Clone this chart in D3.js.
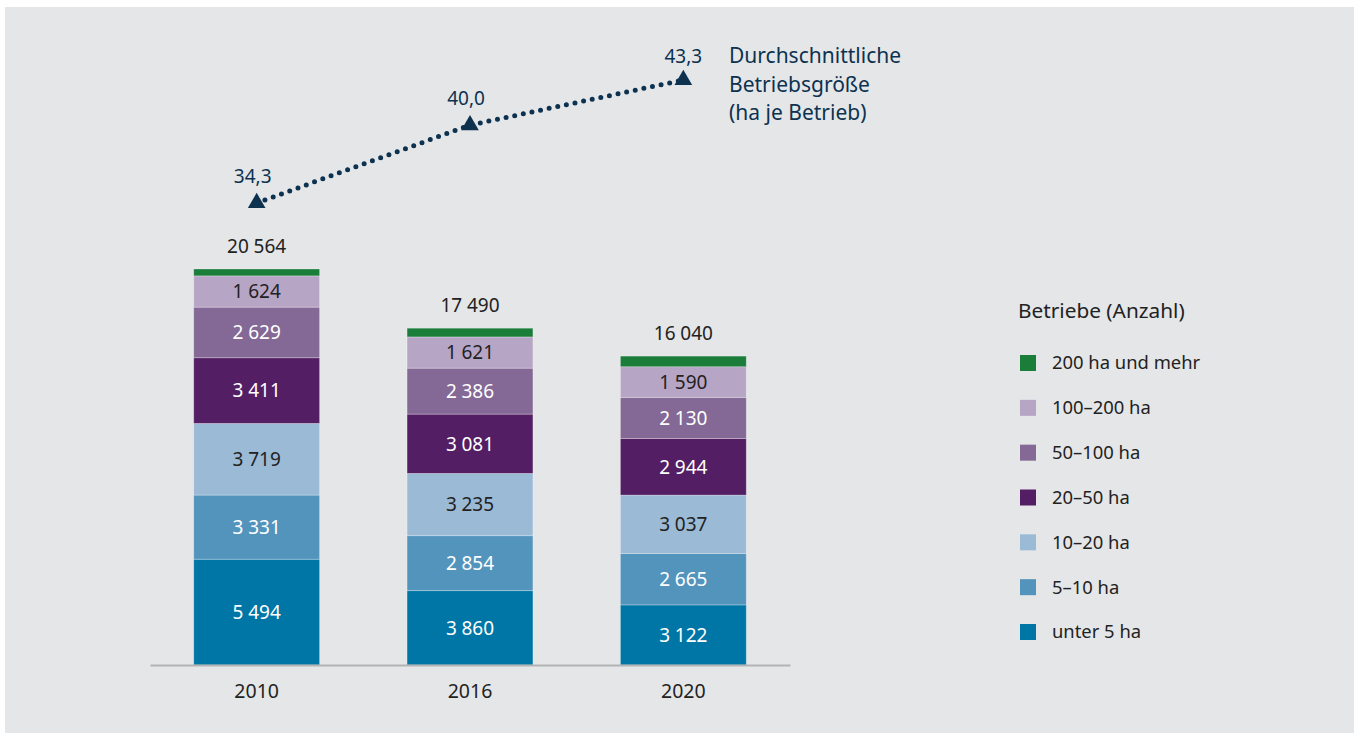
<!DOCTYPE html>
<html>
<head>
<meta charset="utf-8">
<script src="https://cdn.jsdelivr.net/npm/d3@7"></script>
<style>
  body { margin: 0; background: #fff; }
  svg { display: block; font-family: "Noto Sans", "Open Sans", sans-serif; }
</style>
</head>
<body>
<svg id="chart" width="1354" height="733"></svg>
<script>
const years = ["2010", "2016", "2020"];
const categories = ["unter 5 ha", "5–10 ha", "10–20 ha", "20–50 ha", "50–100 ha", "100–200 ha", "200 ha und mehr"];
const colors = ["#0076a6", "#5394bd", "#9bbad6", "#531e63", "#846996", "#b7a5c6", "#1b7d3a"];
const labelDark = [false, false, true, false, false, true, false];
const unter5 = [5494, 3860, 3122];
const ha5to10 = [3331, 2854, 2665];
const ha10to20 = [3719, 3235, 3037];
const ha20to50 = [3411, 3081, 2944];
const ha50to100 = [2629, 2386, 2130];
const ha100to200 = [1624, 1621, 1590];
const ha200plus = [356, 453, 552];
const totals = [20564, 17490, 16040];
const avgSize = [34.3, 40.0, 43.3];

const series = [unter5, ha5to10, ha10to20, ha20to50, ha50to100, ha100to200, ha200plus];
const navy = "#0c3250";
const textCol = "#222";

const fmtInt = v => d3.format(",")(v).replace(/,/g, "\u2005");
const fmtDec = v => d3.format(".1f")(v).replace(".", ",");

const svg = d3.select("#chart");
svg.append("rect").attr("x", 5).attr("y", 7).attr("width", 1349).attr("height", 726).attr("fill", "#e5e6e8");

const x = d3.scaleBand().domain(years).range([150, 790]).paddingInner(0.41).paddingOuter(0.205);
const y = d3.scaleLinear().domain([0, 20564]).range([665, 269]);
const yLine = d3.scaleLinear().domain([34.3, 43.3]).range([203, 80]);

// stacked table built from the arrays
const table = years.map((yr, i) => {
  const row = { year: yr };
  categories.forEach((c, k) => row[c] = series[k][i]);
  return row;
});
const stacked = d3.stack().keys(categories)(table);

const layers = svg.append("g").selectAll("g").data(stacked).enter().append("g")
    .attr("fill", (d, k) => colors[k]);

layers.selectAll("rect").data(d => d).enter().append("rect")
    .attr("x", d => x(d.data.year))
    .attr("y", d => y(d[1]))
    .attr("width", x.bandwidth())
    .attr("height", d => y(d[0]) - y(d[1]))
    .attr("stroke", "rgba(255,255,255,0.35)")
    .attr("stroke-width", 0.8);

// segment labels (not for the thin top segment)
stacked.forEach((layer, k) => {
  if (k === 6) return;
  svg.append("g").selectAll("text").data(layer).enter().append("text")
      .attr("x", d => x(d.data.year) + x.bandwidth() / 2)
      .attr("y", d => (y(d[0]) + y(d[1])) / 2)
      .attr("dy", "0.36em")
      .attr("text-anchor", "middle")
      .attr("font-size", 19)
      .attr("fill", labelDark[k] ? textCol : "#fff")
      .text(d => fmtInt(d[1] - d[0]));
});

// totals
svg.append("g").selectAll("text").data(totals).enter().append("text")
    .attr("x", (d, i) => x(years[i]) + x.bandwidth() / 2)
    .attr("y", d => y(d) - 16)
    .attr("text-anchor", "middle")
    .attr("font-size", 19)
    .attr("fill", textCol)
    .text(d => fmtInt(d));

// axis
const axis = svg.append("g").attr("transform", "translate(0,665)")
    .call(d3.axisBottom(x).tickSize(0).tickSizeOuter(0));
axis.select(".domain").attr("stroke", "#b3b3b3").attr("stroke-width", 2);
axis.selectAll(".tick text").attr("y", 19).attr("font-size", 19.5).attr("fill", textCol)
    .attr("font-family", "Noto Sans, Open Sans, sans-serif");

// average size line
const pts = avgSize.map((v, i) => [x(years[i]) + x.bandwidth() / 2, yLine(v)]);
svg.append("path")
    .attr("d", d3.line()(pts))
    .attr("fill", "none")
    .attr("stroke", navy)
    .attr("stroke-width", 5)
    .attr("stroke-linecap", "round")
    .attr("stroke-dasharray", "0 8.8");

svg.append("g").selectAll("path").data(pts).enter().append("path")
    .attr("d", d3.symbol(d3.symbolTriangle, 135))
    .attr("transform", d => `translate(${d[0]},${d[1]})`)
    .attr("fill", navy);

svg.append("g").selectAll("text").data(avgSize).enter().append("text")
    .attr("x", (d, i) => pts[i][0] - (i < 2 ? 4 : 0))
    .attr("y", (d, i) => pts[i][1] - (i < 2 ? 20 : 17))
    .attr("text-anchor", "middle")
    .attr("font-size", 19)
    .attr("fill", navy)
    .text(d => fmtDec(d));

const lineLabel = ["Durchschnittliche", "Betriebsgröße", "(ha je Betrieb)"];
svg.append("text")
    .attr("x", 729).attr("y", 63)
    .attr("font-size", 21)
    .attr("fill", navy)
    .selectAll("tspan").data(lineLabel).enter().append("tspan")
    .attr("x", 729)
    .attr("dy", (d, i) => i === 0 ? 0 : 28.5)
    .text(d => d);

// legend
const legend = svg.append("g").attr("transform", "translate(1018,0)");
legend.append("text")
    .attr("x", 0).attr("y", 311).attr("dy", "0.35em")
    .attr("font-size", 20.8).attr("fill", textCol)
    .text("Betriebe (Anzahl)");

const legendOrder = d3.range(categories.length).reverse();
const legendY = d3.scalePoint().domain(legendOrder).range([363, 632]);
const items = legend.selectAll(".item").data(legendOrder).enter().append("g")
    .attr("class", "item")
    .attr("transform", k => `translate(0,${legendY(k)})`);
items.append("rect")
    .attr("x", 2).attr("y", -8).attr("width", 16).attr("height", 16)
    .attr("fill", k => colors[k]);
items.append("text")
    .attr("x", 34).attr("dy", "0.35em")
    .attr("font-size", 18.4).attr("fill", textCol)
    .text(k => categories[k]);
</script>
</body>
</html>
